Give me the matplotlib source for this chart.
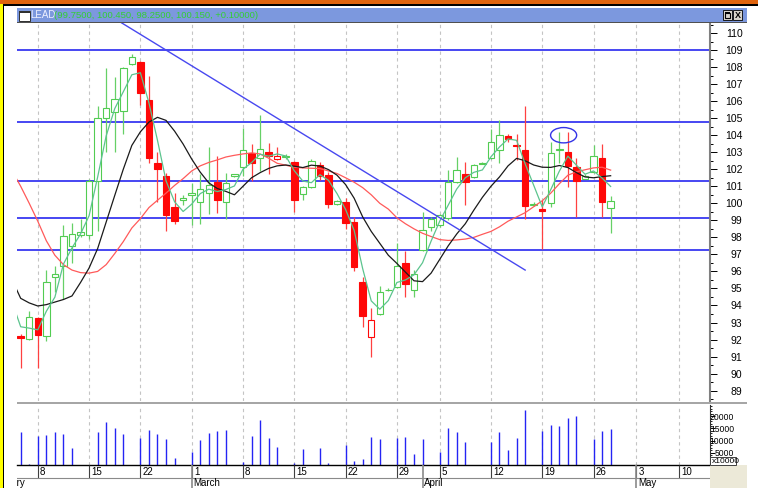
import numpy as np
import matplotlib
matplotlib.use('Agg')
import matplotlib.pyplot as plt
from matplotlib.patches import Rectangle, Ellipse
from matplotlib.ticker import MultipleLocator

plt.rcParams['font.family'] = ['Liberation Sans Narrow', 'Liberation Sans', 'DejaVu Sans']

# daily bars (one slot each)
opens = [92.2, 92.03, 93.24, 92.22, 95.65, 96.32, 97.49, 98.15, 98.14, 101.3,
         105.0, 105.38, 105.42, 108.16, 108.31, 106.06, 102.35, 101.6, 99.8, 100.2,
         100.5, 100.1, 100.58, 101.23, 100.1, 101.62, 102.11, 102.93, 102.64, 103.03,
         102.6, 102.72, 102.44, 100.54, 100.97, 102.25, 101.66, 99.94, 100.1, 98.92,
         95.4, 92.13, 93.48, 94.88, 95.1, 96.51, 94.91, 97.26, 98.63, 98.72,
         99.12, 101.27, 101.72, 101.56, 102.3, 102.68, 103.13, 103.95, 103.4, 103.13,
         99.92, 99.66, 100.0, 103.15, 103.0, 102.11, 101.45, 101.86, 102.68, 99.75]
highs = [92.3, 93.7, 93.3, 96.1, 96.3, 98.7, 98.86, 99.1, 101.4, 105.7,
         107.96, 107.4, 108.0, 108.75, 108.35, 107.5, 103.0, 101.8, 100.6, 100.5,
         101.2, 101.7, 103.3, 102.8, 101.8, 101.75, 104.4, 103.5, 105.2, 103.55,
         103.29, 102.9, 102.5, 101.0, 102.6, 102.45, 101.85, 100.2, 100.3, 99.2,
         95.7, 93.83, 95.15, 95.0, 97.65, 97.2, 96.1, 99.5, 99.2, 99.4,
         101.95, 102.73, 102.44, 102.3, 102.4, 104.34, 104.89, 104.1, 104.1, 105.7,
         100.05, 100.2, 103.6, 104.2, 104.2, 102.64, 101.7, 103.4, 103.5, 100.45]
lows = [90.3, 92.0, 90.3, 91.9, 94.8, 94.4, 96.5, 98.0, 97.9, 98.4,
        103.0, 103.0, 104.1, 108.1, 105.8, 102.35, 100.1, 98.4, 98.8, 99.9,
        98.7, 98.8, 99.4, 99.45, 99.1, 101.55, 101.6, 101.3, 101.9, 101.7,
        102.55, 102.6, 99.5, 100.2, 100.9, 101.35, 99.75, 99.9, 98.47, 96.0,
        92.75, 91.0, 93.45, 94.85, 95.05, 94.5, 94.5, 97.2, 98.4, 98.6,
        99.0, 101.2, 99.9, 101.5, 102.3, 102.6, 102.35, 103.6, 102.54, 99.1,
        99.85, 97.3, 99.8, 102.35, 100.97, 99.2, 101.4, 101.8, 99.2, 98.25]
closes = [92.1, 93.34, 92.28, 95.36, 95.83, 98.1, 98.2, 98.3, 101.31, 105.0,
          105.58, 106.1, 107.96, 108.6, 106.46, 102.64, 102.0, 99.31, 98.96, 100.3,
          100.6, 100.82, 101.07, 100.19, 101.17, 101.7, 103.13, 102.35, 103.17, 102.78,
          102.75, 102.8, 100.19, 100.94, 102.5, 101.6, 99.96, 100.15, 98.82, 96.27,
          93.38, 93.15, 94.81, 94.92, 96.32, 95.26, 95.83, 98.43, 99.08, 99.31,
          101.27, 101.95, 101.27, 102.25, 102.35, 103.58, 104.0, 103.76, 103.35, 99.86,
          99.96, 99.55, 102.93, 103.2, 102.19, 101.33, 101.6, 102.78, 100.05, 100.15]
volume = [13700, 400, 11900, 12300, 13700, 12700, 7100, 0, 0, 13400,
          17600, 15200, 12700, 0, 10900, 14300, 12700, 10700, 2900, 0,
          5300, 10200, 13000, 14100, 14500, 0, 1100, 11900, 18300, 11200,
          7400, 0, 700, 6400, 0, 7100, 800, 0, 8200, 1800,
          2500, 11600, 10700, 0, 10900, 11600, 4500, 10700, 0, 5200,
          15300, 13400, 9600, 0, 0, 9600, 13700, 6100, 11200, 22500,
          0, 14100, 16400, 16100, 19400, 20100, 0, 10700, 14100, 14900]

# moving averages as drawn, starting one slot before the first bar
ma_green = [94.2, 92.75, 92.67, 92.57, 93.66, 94.49, 96.43, 97.38, 98.2, 99.27,
            101.54, 103.96, 105.56, 106.55, 107.55, 107.67, 105.9, 103.7, 101.32, 100.09,
            99.52, 99.95, 100.57, 100.83, 100.69, 100.81, 101.02, 102.0, 102.39, 102.88,
            102.77, 102.9, 102.78, 101.91, 101.31, 101.21, 101.68, 101.35, 100.57, 99.64,
            98.41, 96.16, 94.27, 93.78, 94.29, 95.35, 95.5, 95.8, 96.51, 97.78,
            98.94, 99.89, 100.84, 101.5, 101.82, 101.96, 102.73, 103.31, 103.78, 103.7,
            102.32, 101.06, 99.79, 100.81, 101.89, 102.77, 102.24, 101.71, 101.9, 101.48,
            100.99]
ma_black = [95.5, 94.42, 94.15, 93.97, 94.05, 94.2, 94.35, 94.56, 95.35, 96.2,
            97.34, 98.9, 100.46, 102.0, 103.4, 104.2, 104.77, 105.05, 104.87, 104.24,
            103.48, 102.6, 101.83, 101.2, 100.87, 100.7, 100.5, 101.0, 101.5, 101.8,
            102.05, 102.2, 102.25, 102.18, 102.1, 102.24, 102.19, 101.98, 101.65, 101.1,
            100.3, 99.2, 98.35, 97.65, 96.95, 96.47, 95.96, 95.45, 95.4, 95.9,
            96.7, 97.5, 98.2, 98.8, 99.6, 100.35, 101.0, 101.55, 102.2, 102.64,
            102.5, 102.25, 102.12, 102.11, 102.22, 102.1, 101.8, 101.55, 101.5, 101.57,
            101.62]
ma_red = [101.9, 101.0, 100.0, 98.95, 97.8, 96.95, 96.4, 96.08, 95.93, 95.9,
          96.0, 96.4, 97.05, 97.75, 98.55, 99.1, 99.75, 100.18, 100.6, 101.05,
          101.45, 101.9, 102.2, 102.4, 102.55, 102.72, 102.82, 102.9, 102.96, 102.9,
          102.65, 102.35, 102.24, 102.12, 102.08, 102.06, 102.04, 101.9, 101.75, 101.5,
          101.24, 100.92, 100.5, 100.0, 99.66, 99.15, 98.8, 98.5, 98.24, 98.05,
          97.87, 97.82, 97.85, 97.9, 98.0, 98.18, 98.35, 98.62, 98.95, 99.2,
          99.45, 99.8, 100.15, 100.6, 101.15, 101.65, 101.85, 101.97, 102.08, 102.12,
          101.95]

# drawn annotations
levels = [109.0, 104.77, 101.34, 99.13, 97.26]
trend_x = [11.8, 59.0]
trend_y = [110.6, 96.08]
mark_x, mark_y = 63.5, 104.0

# date axis
week_pos = [2, 8, 14, 20, 26, 32, 38, 44, 49, 55, 61, 67, 72, 77]
week_labels = ['8', '15', '22', '1', '8', '15', '22', '29', '5', '12', '19', '26', '3', '10']
month_pos = [20, 47, 72]
month_labels = ['March', 'April', 'May']

title_name = 'LEAD'
title_values = '(99.7500, 100.450, 98.2500, 100.150, +0.10000)'

W, H = 758, 488
fig = plt.figure(figsize=(W / 100, H / 100), dpi=100, facecolor='white')


def fx(x):
    return x / W


def fy(y):
    return 1 - y / H


def box(x0, y0, x1, y1, **kw):
    r = Rectangle((fx(x0), fy(y1)), (x1 - x0) / W, (y1 - y0) / H,
                  transform=fig.transFigure, **kw)
    fig.add_artist(r)
    return r


L, R = 17, 710
ax = fig.add_axes([fx(L), fy(401), (R - L) / W, (401 - 23) / H])
axv = fig.add_axes([fx(L), fy(465), (R - L) / W, (465 - 404.5) / H])
axd = fig.add_axes([fx(L), fy(488), (R - L) / W, 23 / H])
xlim = (-0.43, 80.62)

GREEN = '#52cc52'
RED = '#ff0808'

# ---- price panel
x = np.arange(len(closes))
o, h, l, c = (np.array(a) for a in (opens, highs, lows, closes))
prev = np.r_[o[0], c[:-1]]
up = c >= prev
col = np.where(up, GREEN, RED)
wick = np.where(up, '#66d066', '#ff4040')

for lv in levels:
    ax.axhline(lv, color='#4646f2', lw=1.4, zorder=2)

ax.vlines(x, l, h, colors=wick, lw=0.9, zorder=3)
body_lo = np.minimum(o, c)
body_h = np.maximum(np.abs(c - o), 0.03)
face = np.where(c < o, col, 'white')
ax.bar(x, body_h, 0.76, bottom=body_lo, color=face, edgecolor=col,
       linewidth=0.8, zorder=4)

xm = np.arange(-1, len(closes))
ax.plot(xm, ma_red, color='#ff5a5a', lw=0.9, zorder=5)
ax.plot(xm, ma_black, color='#1a1a1a', lw=0.9, zorder=5)
ax.plot(xm, ma_green, color='#5cc48e', lw=0.9, zorder=5)

ax.plot(trend_x, trend_y, color='#4848f0', lw=1.0, zorder=5)
ax.add_patch(Ellipse((mark_x, mark_y), 3.05, 0.9, fill=False,
                     edgecolor='#3434e6', lw=1.0, zorder=6))

ax.set_xlim(*xlim)
ax.set_ylim(88.39, 110.59)
ax.set_xticks(week_pos)
ax.tick_params(axis='x', length=0, labelbottom=False)
ax.grid(axis='x', color='#c4c4c4', ls=(0, (3, 3)), lw=0.8)
ax.yaxis.tick_right()
ax.set_yticks(range(89, 111))
ax.yaxis.set_minor_locator(MultipleLocator(0.5))
ax.tick_params(axis='y', which='major', length=4.8, width=0.7, pad=18.6,
               labelsize=7.5, colors='black')
ax.tick_params(axis='y', which='minor', length=2.0, width=0.7)
plt.setp(ax.get_yticklabels(), ha='right')
for s in ['left', 'top', 'bottom']:
    ax.spines[s].set_visible(False)
ax.spines['right'].set_color('#808080')
ax.spines['right'].set_linewidth(1.5)

# ---- volume panel
v = np.array(volume, dtype=float)
has = v > 0
axv.vlines(x[has], 0, v[has], color='#2424f4', lw=1.0)
axv.set_xlim(*xlim)
axv.set_ylim(0, 24800)
axv.set_xticks(week_pos)
axv.tick_params(axis='x', length=0, labelbottom=False)
axv.grid(axis='x', color='#c4c4c4', ls=(0, (3, 3)), lw=0.8)
axv.yaxis.tick_right()
axv.set_yticks([5000, 10000, 15000, 20000])
axv.yaxis.set_minor_locator(MultipleLocator(1000))
axv.tick_params(axis='y', which='major', length=3.6, width=0.7, pad=13.7,
                labelsize=6.2)
axv.tick_params(axis='y', which='minor', length=1.5, width=0.6)
plt.setp(axv.get_yticklabels(), ha='right')
for s in ['left', 'top']:
    axv.spines[s].set_visible(False)
axv.spines['bottom'].set_color('black')
axv.spines['bottom'].set_linewidth(1.0)
axv.spines['right'].set_color('#303030')
axv.spines['right'].set_linewidth(0.8)

# ---- date band
axd.set_xlim(*xlim)
axd.set_ylim(0, 1)
axd.axis('off')
axd.vlines(week_pos, 0.42, 1, color='#404040', lw=0.8)
axd.axhline(0.42, color='#8a8a8a', lw=0.8)
axd.vlines(month_pos, 0, 1, color='#8a8a8a', lw=1.2)
for p, s in zip(week_pos, week_labels):
    axd.text(p + 0.25, 0.68, s, ha='left', va='center', fontsize=7)
for p, s in zip(month_pos, month_labels):
    axd.text(p + 0.2, 0.02, s, ha='left', va='bottom', fontsize=7)
feb = axd.text(0.45, 0.02, 'February', ha='right', va='bottom', fontsize=7,
               clip_on=True)
feb.set_clip_box(axd.bbox)

# ---- window chrome
box(0, 0, W, 4.3, color='#e0640e', lw=0)
box(0, 4.3, W, 5.8, color='black', lw=0)
box(0, 0, 2.7, H, color='#ffff00', lw=0)
box(2.7, 5.8, 3.8, H, color='black', lw=0)
box(0, 0, 2.7, 4.3, color='#e0640e', lw=0)

box(17, 8, 747, 22, color='#7c98de', lw=0)
box(17, 22, 747, 23.2, color='#505050', lw=0)
box(18.5, 11, 29.5, 21, facecolor='white', edgecolor='#303030', lw=0.7)
box(18.5, 11, 29.5, 12.6, color='#303030', lw=0)
fig.text(fx(30), fy(15.5), title_name, color='#eef0ff', fontsize=7,
         va='center', ha='left')
fig.text(fx(53.5), fy(15.5), title_values, color='#33d033', fontsize=6.8,
         va='center', ha='left')
box(723, 10, 731.5, 20, facecolor='#d8d4cc', edgecolor='black', lw=0.6)
box(725, 12.5, 729.5, 18, fill=False, edgecolor='black', lw=0.8)
box(725, 12.5, 729.5, 13.6, color='black', lw=0)
box(733, 10, 742, 20, facecolor='#d8d4cc', edgecolor='black', lw=0.6)
fig.text(fx(737.5), fy(15.2), 'X', fontsize=6.5, fontweight='bold',
         ha='center', va='center')

box(17, 401.6, 747, 404.4, color='#a6a6a6', lw=0)
box(710, 465, 747, 488, color='#ece9d8', lw=0)
box(710, 457, 736, 465, facecolor='white', edgecolor='#404040', lw=0.7)
fig.text(fx(711.5), fy(461.2), 'x10000', fontsize=6, va='center', ha='left')

fig.savefig('out.png', dpi=100)
